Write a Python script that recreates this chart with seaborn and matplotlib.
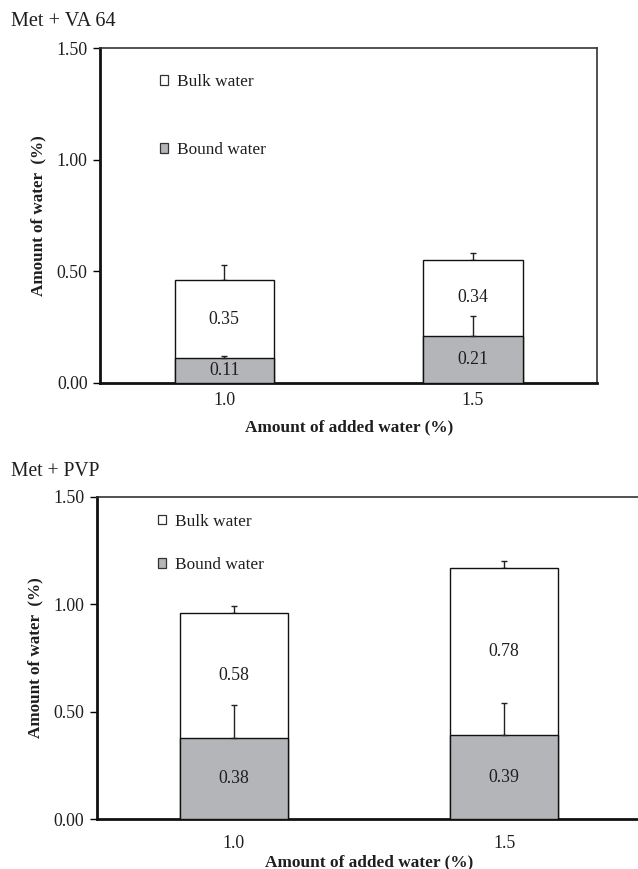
import matplotlib
matplotlib.use("Agg")
import matplotlib.pyplot as plt
import seaborn as sns
import pandas as pd
from matplotlib.patches import Patch

# ---- data ----
added = ["1.0", "1.5"]
va64_bound = [0.11, 0.21]
va64_bulk = [0.35, 0.34]
va64_bound_err = [0.01, 0.09]
va64_total_err = [0.07, 0.03]

pvp_bound = [0.38, 0.39]
pvp_bulk = [0.58, 0.78]
pvp_bound_err = [0.15, 0.15]
pvp_total_err = [0.03, 0.03]

titles = ["Met + VA 64", "Met + PVP"]
yticks = [0.0, 0.5, 1.0, 1.5]

sns.set_theme(style="white")
plt.rcParams["font.family"] = ["Liberation Serif", "DejaVu Serif"]

BOUND_COLOR = "#b4b5b8"
TXT = "#1e1e1e"
FS = 12.8

W, H = 638, 869
fig = plt.figure(figsize=(W / 100, H / 100), dpi=100)

def box(left, right, top, bottom):
    return [left / W, 1 - bottom / H, (right - left) / W, (bottom - top) / H]

panels = [
    dict(bound=va64_bound, bulk=va64_bulk, berr=va64_bound_err, terr=va64_total_err,
         pos=box(100, 597.4, 48.2, 382.7), xlim=(-0.5, 1.5),
         title=titles[0], title_fs=14.6, title_xy=(11 / W, 1 - 22 / H),
         leg_xy=(0.1206, 0.922), leg_space=3.0, tick_pad=7, label_pad=7),
    dict(bound=pvp_bound, bulk=pvp_bulk, berr=pvp_bound_err, terr=pvp_total_err,
         pos=box(97, 640.7, 496.5, 819.3), xlim=(-0.505, 1.505),
         title=titles[1], title_fs=14.1, title_xy=(11 / W, 1 - 472 / H),
         leg_xy=(0.112, 0.947), leg_space=1.6, tick_pad=11, label_pad=2),
]

for p in panels:
    ax = fig.add_axes(p["pos"])
    total = [b + k for b, k in zip(p["bound"], p["bulk"])]
    df = pd.DataFrame({"added": added, "bound": p["bound"], "bulk": p["bulk"], "total": total})

    sns.barplot(data=df, x="added", y="total", order=added, color="white",
                edgecolor="#111111", linewidth=1.0, width=0.4, errorbar=None, ax=ax,
                saturation=1, zorder=2)
    sns.barplot(data=df, x="added", y="bound", order=added, color=BOUND_COLOR,
                edgecolor="#111111", linewidth=1.0, width=0.4, errorbar=None, ax=ax,
                saturation=1, zorder=3)

    xs = list(range(len(added)))
    ax.errorbar(xs, total, yerr=[[0] * len(xs), p["terr"]], fmt="none", ecolor="#222222",
                elinewidth=1.0, capsize=2.2, capthick=1.0, zorder=1)
    ax.errorbar(xs, p["bound"], yerr=[[0] * len(xs), p["berr"]], fmt="none", ecolor="#222222",
                elinewidth=1.0, capsize=2.2, capthick=1.0, zorder=4)

    for i in xs:
        ax.text(i, p["bound"][i] / 2, f"{p['bound'][i]:.2f}", ha="center", va="center",
                fontsize=FS, color=TXT, zorder=5)
        ax.text(i, p["bound"][i] + p["bulk"][i] / 2, f"{p['bulk'][i]:.2f}", ha="center",
                va="center", fontsize=FS, color=TXT, zorder=5)

    ax.set_xlim(*p["xlim"])
    ax.set_ylim(0, 1.5)
    ax.set_yticks(yticks)
    ax.set_yticklabels([f"{v:.2f}" for v in yticks], fontsize=FS, color=TXT)
    ax.set_xticks(xs)
    ax.set_xticklabels(added, fontsize=FS, color=TXT)
    ax.tick_params(axis="x", which="major", length=0, pad=p["tick_pad"])
    ax.set_xticks([0.5], minor=True)
    ax.tick_params(axis="x", which="minor", direction="in", length=5, width=1, color="#333333")
    ax.tick_params(axis="y", which="major", direction="out", length=5, width=1,
                   color="black", left=True, pad=4)

    ax.set_ylabel("Amount of water  (%)", fontsize=12.3, fontweight="bold", color=TXT,
                  labelpad=7)
    ax.set_xlabel("Amount of added water (%)", fontsize=12.4, fontweight="bold",
                  color=TXT, labelpad=p["label_pad"])

    for side in ["left", "bottom"]:
        ax.spines[side].set_linewidth(2.0)
        ax.spines[side].set_color("#111111")
    for side in ["top", "right"]:
        ax.spines[side].set_linewidth(1.2)
        ax.spines[side].set_color("#333333")

    handles = [Patch(facecolor="white", edgecolor="#333333", linewidth=0.9, label="Bulk water"),
               Patch(facecolor=BOUND_COLOR, edgecolor="#333333", linewidth=0.9, label="Bound water")]
    ax.legend(handles=handles, loc="upper left", bbox_to_anchor=p["leg_xy"], frameon=False,
              fontsize=12.4, handlelength=0.46, handleheight=0.46, handletextpad=0.52,
              labelspacing=p["leg_space"], borderpad=0, borderaxespad=0,
              labelcolor=TXT)

    fig.text(p["title_xy"][0], p["title_xy"][1], p["title"], fontsize=p["title_fs"],
             ha="left", va="center", color=TXT)

fig.savefig("out.png", dpi=100)
